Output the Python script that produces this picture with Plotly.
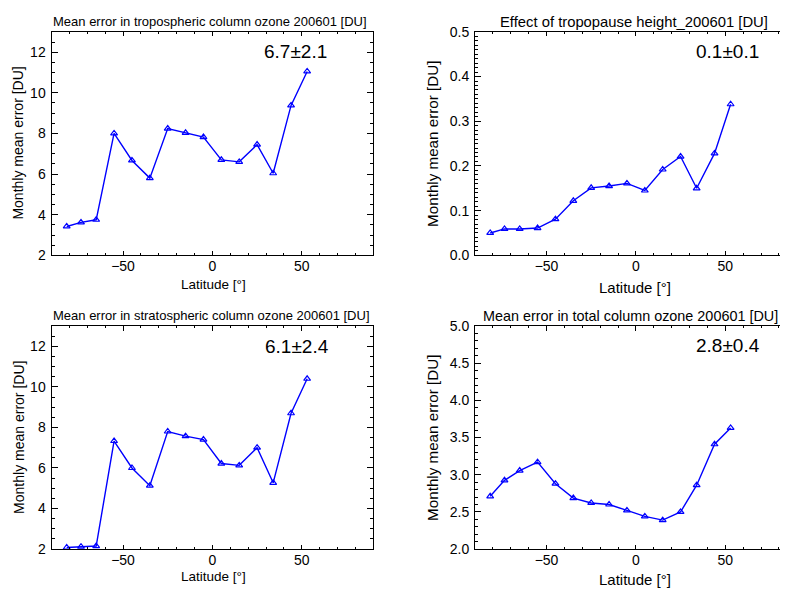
import plotly.graph_objects as go

# ---- data ----
lat = [-81.5, -73.5, -65, -55, -45, -35, -25, -15, -5, 5, 15, 25, 34, 44, 53]
tropo_err = [3.42, 3.62, 3.75, 8.0, 6.67, 5.8, 8.24, 8.03, 7.82, 6.7, 6.6, 7.45, 6.04, 9.38, 11.05]
tropopause_eff = [0.050, 0.059, 0.059, 0.061, 0.081, 0.122, 0.151, 0.155, 0.161, 0.145, 0.192, 0.221, 0.150, 0.228, 0.338]
strato_err = [2.08, 2.12, 2.15, 7.33, 6.0, 5.13, 7.8, 7.57, 7.4, 6.22, 6.13, 7.0, 5.27, 8.7, 10.4]
total_err = [2.71, 2.925, 3.056, 3.17, 2.88, 2.686, 2.621, 2.6, 2.52, 2.44, 2.39, 2.5, 2.86, 3.41, 3.63]

titles = ["Mean error in tropospheric column ozone 200601 [DU]",
          "Effect of tropopause height_200601 [DU]",
          "Mean error in stratospheric column ozone 200601 [DU]",
          "Mean error in total column ozone 200601 [DU]"]
stats = ["6.7\u00b12.1", "0.1\u00b10.1", "6.1\u00b12.4", "2.8\u00b10.4"]
yranges = [[2, 13], [0, 0.5], [2, 13], [2, 5]]
ydticks = [2, 0.1, 2, 0.5]
yminor = [0.5, 0.01, 0.5, 0.1]
yfmt = ["d", ".1f", "d", ".1f"]
series = [tropo_err, tropopause_eff, strato_err, total_err]

# page body has an 8px margin; figure sized to fill the rest of the window
OFF = 8
W, H = 780, 589
FONT = "Liberation Sans, Arial, Helvetica, sans-serif"

def px(x):
    return (x - OFF) / W

def py(y):
    return 1 - (y - OFF) / H

# plot boxes in screen pixels: (left, right, top, bottom)
boxes = [(51.5, 373.3, 24.3, 254.0),
         (475.0, 788.0, 24.3, 254.0),
         (51.5, 373.3, 326.7, 556.0),
         (475.0, 788.0, 326.7, 556.0)]
# right panels are cut off by the image edge (full box would end at ~796.6)
xranges = [[-90, 90], [-90, 85.1], [-90, 90], [-90, 85.1]]

fig = go.Figure()
layout = dict(width=W, height=H, autosize=False,
              margin=dict(l=0, r=0, t=0, b=0, pad=0),
              paper_bgcolor="white", plot_bgcolor="white",
              showlegend=False, font=dict(family=FONT, color="black", size=14))

annotations = []
for i in range(4):
    n = i + 1
    xa = "x" if n == 1 else f"x{n}"
    ya = "y" if n == 1 else f"y{n}"
    fig.add_trace(go.Scatter(
        x=lat, y=series[i], xaxis=xa, yaxis=ya, mode="lines+markers",
        line=dict(color="#0000ff", width=1.4),
        marker=dict(symbol="triangle-up-open", size=6, color="#0000ff",
                    line=dict(width=1.2, color="#0000ff")),
        cliponaxis=True))
    l, r, t, b = boxes[i]
    right = i in (1, 3)
    xkey = "xaxis" if n == 1 else f"xaxis{n}"
    ykey = "yaxis" if n == 1 else f"yaxis{n}"
    layout[xkey] = dict(
        domain=[max(0, px(l)), min(1, px(r))], anchor=ya, range=xranges[i],
        tickmode="linear", tick0=0, dtick=50, ticks="inside", ticklen=4.6,
        tickwidth=1, tickcolor="black", showline=True, linecolor="black",
        linewidth=1, mirror="allticks", showgrid=False, zeroline=False,
        tickfont=dict(size=14, color="black"), ticklabelstandoff=-2,
        minor=dict(dtick=10, tick0=0, ticks="inside", ticklen=2.3,
                   tickwidth=1, tickcolor="black", showgrid=False))
    layout[ykey] = dict(
        domain=[py(b), py(t)], anchor=xa, range=yranges[i],
        tickmode="linear", tick0=0, dtick=ydticks[i], tickformat=yfmt[i],
        ticks="inside", ticklen=6.4, tickwidth=1, tickcolor="black",
        showline=True, linecolor="black", linewidth=1,
        mirror=False if right else "allticks", showgrid=False, zeroline=False,
        tickfont=dict(size=14, color="black"), ticklabelstandoff=2,
        minor=dict(dtick=yminor[i], tick0=0, ticks="inside", ticklen=3.2,
                   tickwidth=1, tickcolor="black", showgrid=False))

    tsize = [13, 14.8, 13, 14.4][i]
    tx = [210, 633.7, 211, 630.5][i]
    ty = [14, 14, 316, 316][i]
    annotations.append(dict(text=titles[i], x=px(tx), y=py(ty), xref="paper",
                            yref="paper", showarrow=False, xanchor="center",
                            yanchor="middle", font=dict(size=tsize, color="black")))
    sx = [295, 727.7, 296.5, 728][i]
    sy = [45, 45, 347.5, 347][i]
    annotations.append(dict(text=stats[i], x=px(sx), y=py(sy), xref="paper",
                            yref="paper", showarrow=False, xanchor="center",
                            yanchor="middle", font=dict(size=19, color="black")))
    # axis titles
    axs = 15 if right else 13.5
    lx = [213, 635, 213, 635][i]
    lyy = [284.5, 287.5, 584.5, 587.5][i]
    annotations.append(dict(text="Latitude [\u00b0]", x=px(lx), y=py(lyy),
                            xref="paper", yref="paper", showarrow=False,
                            xanchor="center", yanchor="middle",
                            font=dict(size=axs, color="black")))
    yx = [18, 432.3, 18.3, 432.3][i]
    yys = 15.2 if right else 14
    annotations.append(dict(text="Monthly mean error [DU]", x=px(yx),
                            y=py((t + b) / 2), xref="paper", yref="paper",
                            showarrow=False, textangle=-90, xanchor="center",
                            yanchor="middle", font=dict(size=yys, color="black")))

layout["annotations"] = annotations
fig.update_layout(**layout)
fig.write_html("out.html")
